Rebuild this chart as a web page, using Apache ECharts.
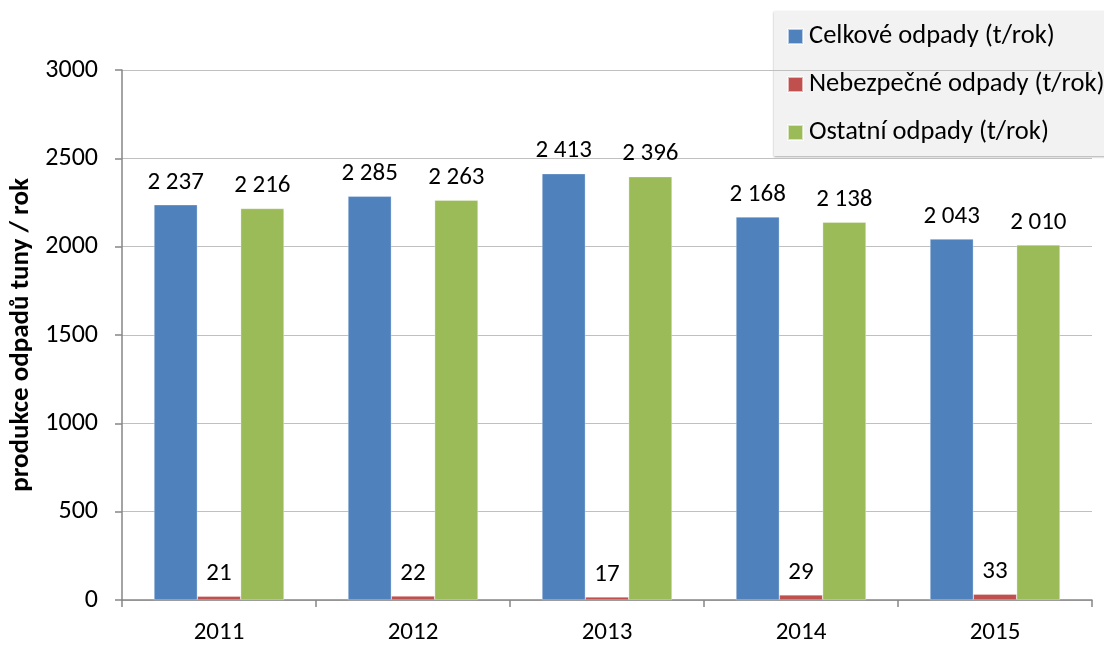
<!DOCTYPE html>
<html>
<head>
<meta charset="utf-8">
<script src="https://cdn.jsdelivr.net/npm/echarts@6/dist/echarts.min.js"></script>
<style>html,body{margin:0;padding:0;background:#fff}#c{width:1104px;height:646px}</style>
</head>
<body>
<div id="c"></div>
<script>
const categories = ['2011', '2012', '2013', '2014', '2015'];
const seriesNames = ['Celkové odpady (t/rok)', 'Nebezpečné odpady (t/rok)', 'Ostatní odpady (t/rok)'];
const celkove = [2237, 2285, 2413, 2168, 2043];
const nebezpecne = [21, 22, 17, 29, 33];
const ostatni = [2216, 2263, 2396, 2138, 2010];
const yTicks = [0, 500, 1000, 1500, 2000, 2500, 3000];
const yTitle = 'produkce odpadů tuny / rok';

const FONT = 'Carlito, Calibri, Lato, sans-serif';
const colors = ['#4f81bd', '#c0504d', '#9bbb59'];
const fmt = v => String(v).replace(/\B(?=(\d{3})+(?!\d))/g, ' ');

const chart = echarts.init(document.getElementById('c'), null, {renderer: 'canvas'});
const mk = (name, data, i) => ({
  name, type: 'bar', data,
  barGap: '0%', barCategoryGap: '33%',
  itemStyle: {color: colors[i], borderColor: 'rgba(255,255,255,0.6)', borderWidth: 0.5},
  label: {show: true, position: 'top', distance: 10, color: '#000', fontFamily: FONT, fontSize: 25,
    formatter: p => fmt(p.value)},
  emphasis: {disabled: true},
  animation: false
});
chart.setOption({
  animation: false,
  color: colors,
  graphic: [{
    type: 'rect', left: 774, top: 11, z: 0,
    shape: {width: 340, height: 145},
    style: {fill: '#f2f2f2', shadowColor: 'rgba(0,0,0,0.35)', shadowBlur: 2, shadowOffsetY: 1}
  }],
  legend: {
    orient: 'vertical', left: 787, top: 23, padding: 0,
    itemWidth: 15, itemHeight: 15, itemGap: 21,
    icon: 'rect',
    textStyle: {fontFamily: FONT, fontSize: 26.5, lineHeight: 26, color: '#000', padding: [0, 0, 0, 1]},
    data: seriesNames
  },
  grid: {left: 122, right: 12, top: 70, bottom: 46, containLabel: false, outerBoundsMode: 'none'},
  xAxis: {
    type: 'category', data: categories,
    axisLine: {lineStyle: {color: '#868686', width: 1.5}},
    axisTick: {show: true, length: 7, lineStyle: {color: '#868686', width: 1.5}},
    axisLabel: {fontFamily: FONT, fontSize: 25, color: '#000', margin: 20}
  },
  yAxis: {
    type: 'value', min: yTicks[0], max: yTicks[yTicks.length - 1], interval: 500,
    name: yTitle, nameLocation: 'middle', nameGap: 87, nameRotate: 90,
    nameTextStyle: {fontFamily: FONT, fontSize: 27, fontWeight: 'bold', color: '#000'},
    axisLine: {show: true, lineStyle: {color: '#868686', width: 1.5}},
    axisTick: {show: true, length: 7, lineStyle: {color: '#868686', width: 1.5}},
    axisLabel: {fontFamily: FONT, fontSize: 26, color: '#000', margin: 24, formatter: v => String(v)},
    splitLine: {lineStyle: {color: '#c0c0c0', width: 1}}
  },
  series: [mk(seriesNames[0], celkove, 0), mk(seriesNames[1], nebezpecne, 1), mk(seriesNames[2], ostatni, 2)]
});
</script>
</body>
</html>
